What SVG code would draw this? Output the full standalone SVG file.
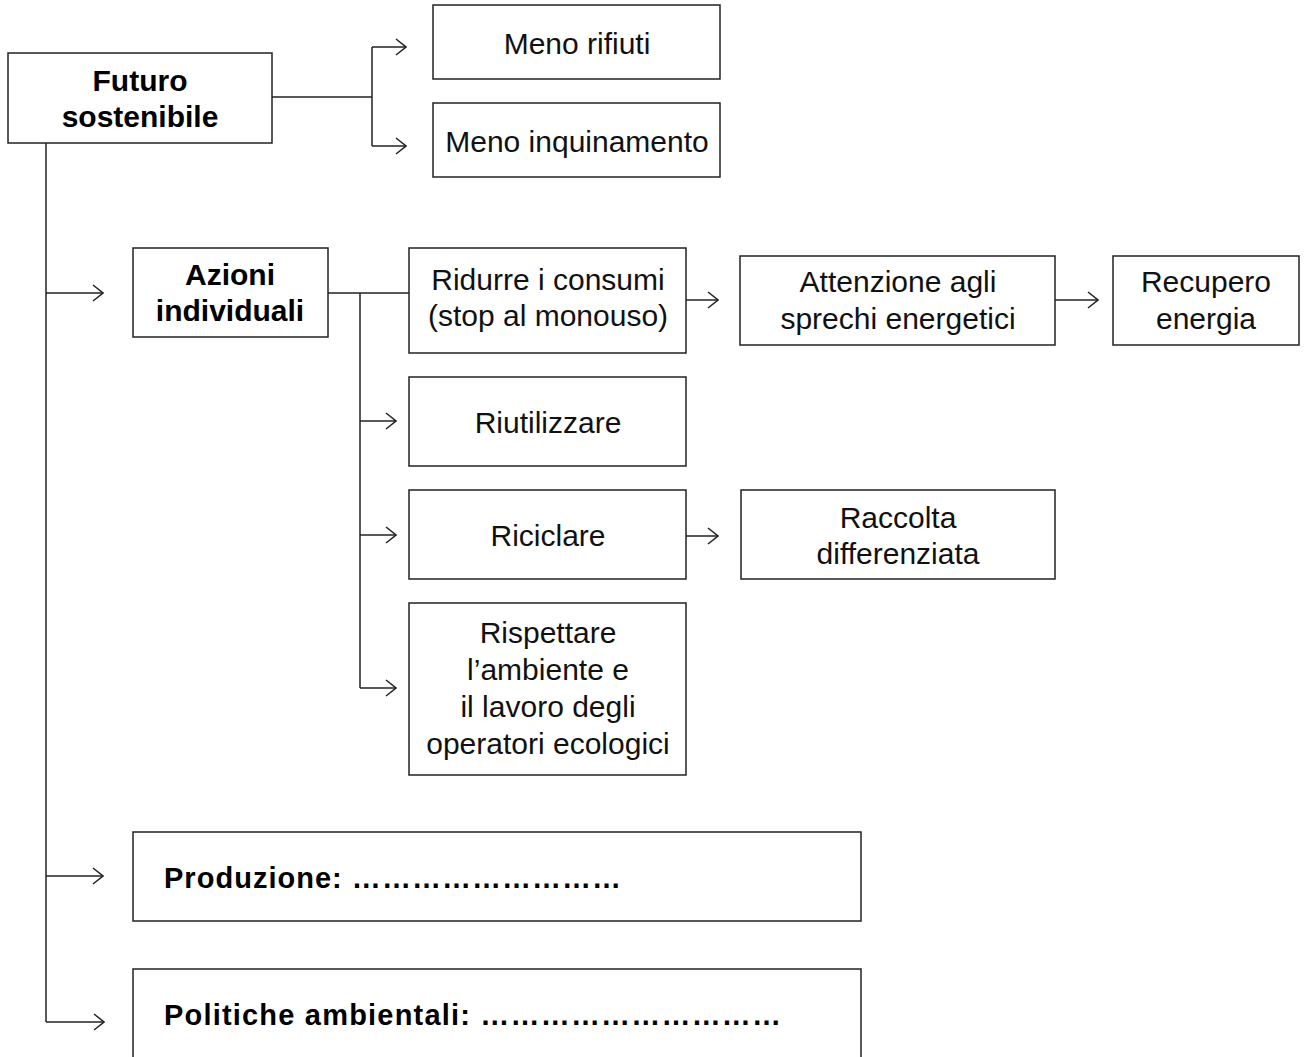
<svg xmlns="http://www.w3.org/2000/svg" width="1309" height="1057" viewBox="0 0 1309 1057">
<defs>
<style>
.box{fill:#fff;stroke:#222;stroke-width:1.5}
.ln{fill:none;stroke:#222;stroke-width:1.5}
.t{font-family:"Liberation Sans",Arial,sans-serif;font-size:30px;fill:#111;text-anchor:middle}
.b{font-family:"Liberation Sans",Arial,sans-serif;font-size:30px;font-weight:bold;fill:#000;text-anchor:middle}
.bl{font-family:"Liberation Sans",Arial,sans-serif;font-size:29px;font-weight:bold;fill:#000}
</style>
<marker id="ah" viewBox="0 0 12 18" refX="11" refY="9" markerWidth="12" markerHeight="18" markerUnits="userSpaceOnUse" orient="auto">
<path d="M1,1 L11,9 L1,17" fill="none" stroke="#222" stroke-width="1.5"/>
</marker>
</defs>
<rect width="1309" height="1057" fill="#fff"/>
<g id="connectors">
<path class="ln" d="M272,97 H372 M372,47 V146"/>
<path class="ln" d="M372,47 H406" marker-end="url(#ah)"/>
<path class="ln" d="M372,146 H406" marker-end="url(#ah)"/>
<path class="ln" d="M46,143 V1022"/>
<path class="ln" d="M46,293 H103" marker-end="url(#ah)"/>
<path class="ln" d="M46,876 H103" marker-end="url(#ah)"/>
<path class="ln" d="M46,1022 H104" marker-end="url(#ah)"/>
<path class="ln" d="M328,293 H409 M360,293 V688"/>
<path class="ln" d="M360,421 H396" marker-end="url(#ah)"/>
<path class="ln" d="M360,535 H396" marker-end="url(#ah)"/>
<path class="ln" d="M360,688 H396" marker-end="url(#ah)"/>
<path class="ln" d="M686,300 H718" marker-end="url(#ah)"/>
<path class="ln" d="M1055,300 H1098" marker-end="url(#ah)"/>
<path class="ln" d="M686,536 H718" marker-end="url(#ah)"/>
</g>
<g id="futuro">
<rect class="box" x="8" y="53" width="264" height="90"/>
<text class="b" x="140" y="91">Futuro</text>
<text class="b" x="140" y="127">sostenibile</text>
</g>
<g id="meno-rifiuti">
<rect class="box" x="433" y="5" width="287" height="74"/>
<text class="t" x="577" y="54">Meno rifiuti</text>
</g>
<g id="meno-inquinamento">
<rect class="box" x="433" y="103" width="287" height="74"/>
<text class="t" x="577" y="152">Meno inquinamento</text>
</g>
<g id="azioni">
<rect class="box" x="133" y="248" width="195" height="89"/>
<text class="b" x="230" y="285">Azioni</text>
<text class="b" x="230" y="321">individuali</text>
</g>
<g id="ridurre">
<rect class="box" x="409" y="248" width="277" height="105"/>
<text class="t" x="548" y="290">Ridurre i consumi</text>
<text class="t" x="548" y="326">(stop al monouso)</text>
</g>
<g id="attenzione">
<rect class="box" x="740" y="256" width="315" height="89"/>
<text class="t" x="898" y="292">Attenzione agli</text>
<text class="t" x="898" y="329">sprechi energetici</text>
</g>
<g id="recupero">
<rect class="box" x="1113" y="256" width="186" height="89"/>
<text class="t" x="1206" y="292">Recupero</text>
<text class="t" x="1206" y="329">energia</text>
</g>
<g id="riutilizzare">
<rect class="box" x="409" y="377" width="277" height="89"/>
<text class="t" x="548" y="433">Riutilizzare</text>
</g>
<g id="riciclare">
<rect class="box" x="409" y="490" width="277" height="89"/>
<text class="t" x="548" y="546">Riciclare</text>
</g>
<g id="raccolta">
<rect class="box" x="741" y="490" width="314" height="89"/>
<text class="t" x="898" y="528">Raccolta</text>
<text class="t" x="898" y="564">differenziata</text>
</g>
<g id="rispettare">
<rect class="box" x="409" y="603" width="277" height="172"/>
<text class="t" x="548" y="643">Rispettare</text>
<text class="t" x="548" y="680">l’ambiente e</text>
<text class="t" x="548" y="717">il lavoro degli</text>
<text class="t" x="548" y="754">operatori ecologici</text>
</g>
<g id="produzione">
<rect class="box" x="133" y="832" width="728" height="89"/>
<text class="bl" x="164" y="888" textLength="457" lengthAdjust="spacing">Produzione: ………………………</text>
</g>
<g id="politiche">
<rect class="box" x="133" y="969" width="728" height="100"/>
<text class="bl" x="164" y="1025" textLength="617" lengthAdjust="spacing">Politiche ambientali: …………………………</text>
</g>
</svg>
